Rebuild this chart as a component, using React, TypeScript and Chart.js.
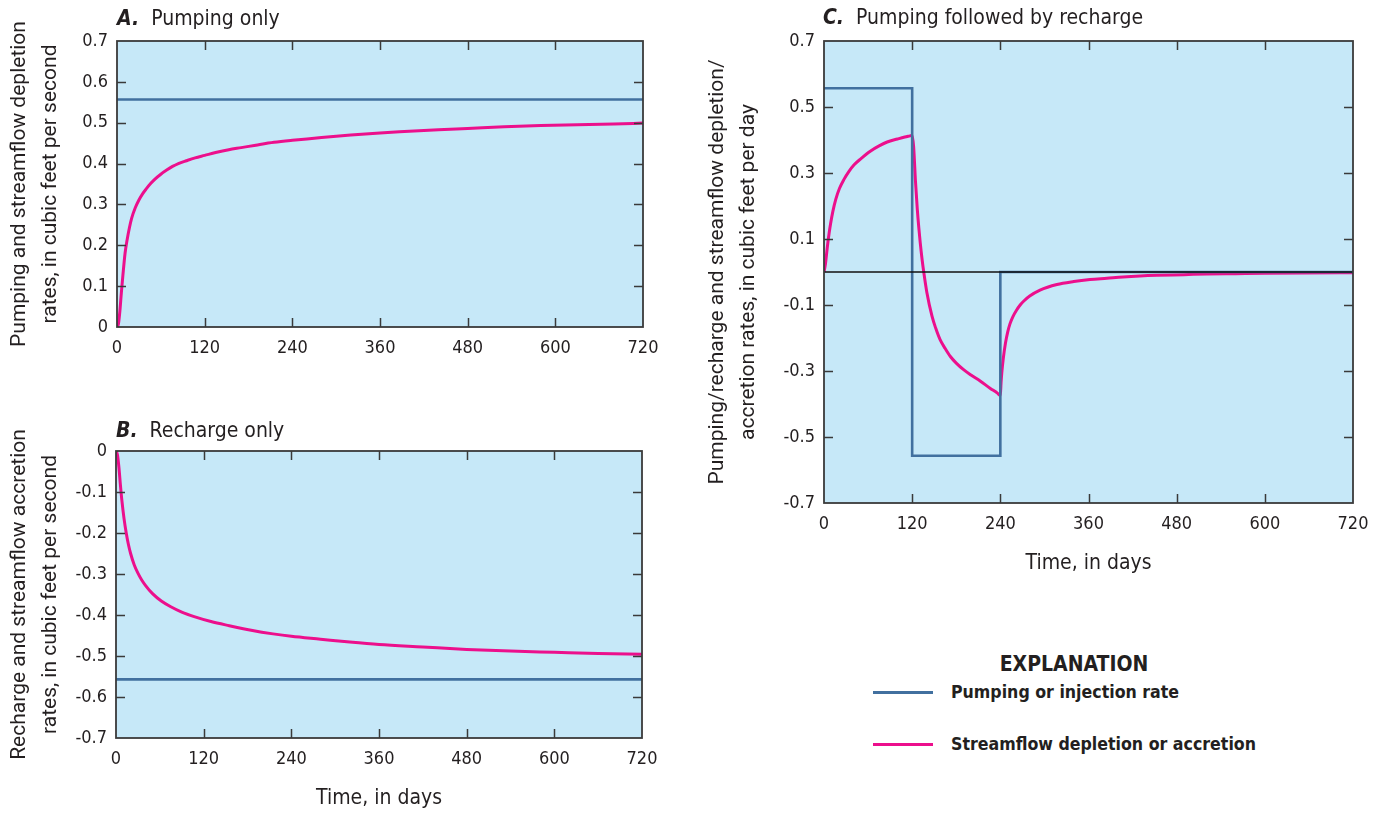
import React, { useEffect, useRef } from "react";
import { Chart, registerables } from "chart.js";

Chart.register(...registerables);

// ---------- fonts & colours ----------
const COND = "'Liberation Sans Narrow', 'DejaVu Sans Condensed', 'Roboto Condensed', Roboto, sans-serif";
const REG = "Roboto, 'Liberation Sans', sans-serif";
const TEXT = "#231f20";
const BG = "#c6e8f8";
const BLUE = "#41709f";
const PINK = "#ec0f8c";
const FRAME = "#3a3a3a";

// ---------- tick values ----------
const xTicks = [0, 120, 240, 360, 480, 600, 720];
const yTicksA = [0, 0.1, 0.2, 0.3, 0.4, 0.5, 0.6, 0.7];
const yTicksB = [-0.7, -0.6, -0.5, -0.4, -0.3, -0.2, -0.1, 0];
const yTicksC = [-0.7, -0.5, -0.3, -0.1, 0.1, 0.3, 0.5, 0.7];

// ---------- A. Pumping only ----------
const pumpDaysA = [0, 720];
const pumpRateA = [0.557, 0.557];
const daysA = [0, 2, 4, 6, 8, 11, 14, 17, 20, 25, 30, 35, 40, 46, 52, 60, 68, 76, 84, 95, 107, 120, 135, 153, 170, 190, 215, 240, 270, 300, 330, 360, 400, 440, 480, 530, 580, 630, 680, 720];
const depletionA = [0, 0.008, 0.04, 0.085, 0.125, 0.18, 0.215, 0.243, 0.266, 0.292, 0.311, 0.326, 0.338, 0.351, 0.362, 0.374, 0.384, 0.393, 0.4, 0.407, 0.414, 0.42, 0.427, 0.434, 0.439, 0.445, 0.452, 0.457, 0.462, 0.467, 0.471, 0.475, 0.479, 0.483, 0.486, 0.49, 0.493, 0.495, 0.497, 0.499];

// ---------- B. Recharge only ----------
const rechargeDaysB = [0, 720];
const rechargeRateB = [-0.557, -0.557];
const daysB = [0, 2, 4, 6, 8, 11, 14, 17, 20, 25, 30, 35, 40, 50, 62, 75, 90, 107, 130, 155, 185, 215, 240, 280, 320, 360, 420, 480, 540, 600, 660, 720];
const accretionB = [0, -0.01, -0.04, -0.082, -0.12, -0.165, -0.2, -0.228, -0.25, -0.278, -0.298, -0.314, -0.327, -0.348, -0.366, -0.38, -0.393, -0.404, -0.416, -0.426, -0.437, -0.446, -0.452, -0.459, -0.466, -0.472, -0.478, -0.484, -0.488, -0.491, -0.494, -0.496];

// ---------- C. Pumping followed by recharge ----------
const zeroDaysC = [0, 720];
const zeroC = [0, 0];
const stepDaysC = [0, 120, 120, 240, 240, 720];
const stepRateC = [0.557, 0.557, -0.557, -0.557, 0, 0];
const daysC = [
  0, 2, 4.5, 7, 9, 12, 16, 21, 27, 34, 41, 50, 63, 75, 86, 100, 110, 117, 120,
  122, 124.5, 127, 129, 131, 133.5, 136, 140, 147, 152, 158, 165, 172, 180, 190, 200, 213, 226, 236, 240,
  241, 242, 244, 247, 250, 253, 257, 262, 267, 272, 280, 294, 317, 340, 362, 385, 407, 430, 453, 490, 521, 560, 600, 650, 720,
];
const streamC = [
  0, 0.025, 0.075, 0.118, 0.147, 0.183, 0.22, 0.253, 0.28, 0.305, 0.325, 0.343, 0.366, 0.382, 0.394, 0.403, 0.409, 0.4125, 0.414,
  0.38, 0.275, 0.19, 0.135, 0.088, 0.038, -0.004, -0.062, -0.134, -0.17, -0.205, -0.232, -0.256, -0.276, -0.296, -0.312, -0.331, -0.352, -0.367, -0.374,
  -0.335, -0.305, -0.262, -0.215, -0.182, -0.158, -0.136, -0.116, -0.1, -0.088, -0.073, -0.055, -0.038, -0.029, -0.023, -0.019, -0.015, -0.012, -0.01, -0.008, -0.006, -0.005, -0.004, -0.003, -0.002,
];

const pts = (xs: number[], ys: number[]) => xs.map((x, i) => ({ x, y: ys[i] }));

// plugin: plot background, frame and inward ticks on all four sides
const framePlugin = {
  id: "frame",
  beforeDraw(chart: any) {
    const { ctx, chartArea: a } = chart;
    ctx.save();
    ctx.fillStyle = BG;
    ctx.fillRect(a.left, a.top, a.right - a.left, a.bottom - a.top);
    ctx.restore();
  },
  afterDatasetsDraw(chart: any) {
    const { ctx, chartArea: a, scales } = chart;
    const L = 9;
    ctx.save();
    ctx.strokeStyle = FRAME;
    ctx.lineWidth = 1.5;
    ctx.beginPath();
    for (const t of scales.x.ticks) {
      const px = Math.round(scales.x.getPixelForValue(t.value)) + 0.5;
      if (px <= a.left + 2 || px >= a.right - 2) continue;
      ctx.moveTo(px, a.bottom);
      ctx.lineTo(px, a.bottom - L);
      ctx.moveTo(px, a.top);
      ctx.lineTo(px, a.top + L);
    }
    for (const t of scales.y.ticks) {
      const py = Math.round(scales.y.getPixelForValue(t.value)) + 0.5;
      if (py <= a.top + 2 || py >= a.bottom - 2) continue;
      ctx.moveTo(a.left, py);
      ctx.lineTo(a.left + L, py);
      ctx.moveTo(a.right, py);
      ctx.lineTo(a.right - L, py);
    }
    ctx.stroke();
    ctx.lineWidth = 1.8;
    ctx.strokeRect(a.left, a.top, a.right - a.left, a.bottom - a.top);
    ctx.restore();
  },
};

type PanelProps = {
  left: number;
  top: number;
  width: number;
  height: number;
  yWidth: number;
  xHeight: number;
  padRight: number;
  yMin: number;
  yMax: number;
  yTicks: number[];
  yTitle: string[];
  yTitlePad: number;
  xTitle?: string;
  xTitlePad?: number;
  datasets: any[];
};

function Panel(p: PanelProps) {
  const ref = useRef<HTMLCanvasElement | null>(null);
  useEffect(() => {
    if (!ref.current) return;
    const chart = new Chart(ref.current, {
      type: "line",
      data: { datasets: p.datasets },
      plugins: [framePlugin],
      options: {
        animation: false,
        responsive: false,
        maintainAspectRatio: false,
        events: [],
        layout: { padding: { top: 41, right: p.padRight, left: 0, bottom: 0 } },
        plugins: { legend: { display: false }, tooltip: { enabled: false } },
        elements: { point: { radius: 0 } },
        scales: {
          x: {
            type: "linear",
            min: 0,
            max: 720,
            afterBuildTicks: (s: any) => {
              s.ticks = xTicks.map((v) => ({ value: v }));
            },
            afterFit: (s: any) => {
              s.height = p.xHeight;
            },
            grid: { display: false, drawTicks: false },
            border: { display: false },
            ticks: {
              autoSkip: false,
              maxRotation: 0,
              padding: 11,
              color: TEXT,
              font: { family: COND, size: 18, lineHeight: 1.2 },
              callback: (v: any) => String(v),
            },
            title: p.xTitle
              ? {
                  display: true,
                  text: p.xTitle,
                  color: TEXT,
                  font: { family: COND, size: 21, lineHeight: 1.2 },
                  padding: { top: 0, bottom: p.xTitlePad || 0 },
                }
              : { display: false },
          },
          y: {
            type: "linear",
            min: p.yMin,
            max: p.yMax,
            afterBuildTicks: (s: any) => {
              s.ticks = p.yTicks.map((v) => ({ value: v }));
            },
            afterFit: (s: any) => {
              s.width = p.yWidth;
            },
            grid: { display: false, drawTicks: false },
            border: { display: false },
            ticks: {
              autoSkip: false,
              padding: 9,
              color: TEXT,
              font: { family: COND, size: 18 },
              callback: (v: any) => (Math.abs(v) < 1e-9 ? "0" : Number(v).toFixed(1)),
            },
            title: {
              display: true,
              text: p.yTitle,
              color: TEXT,
              font: { family: REG, size: 21, lineHeight: 1.45 },
              padding: { top: p.yTitlePad, bottom: 0 },
            },
          },
        },
      } as any,
    });
    return () => chart.destroy();
  }, []);
  return (
    <canvas
      ref={ref}
      width={p.width}
      height={p.height}
      style={{ position: "absolute", left: p.left, top: p.top, width: p.width, height: p.height }}
    />
  );
}

const line = (data: any[], color: string, width: number, smooth = false) => ({
  data,
  borderColor: color,
  borderWidth: width,
  pointRadius: 0,
  fill: false,
  tension: smooth ? 0.4 : 0,
  cubicInterpolationMode: smooth ? "monotone" : "default",
  borderJoinStyle: "miter",
});

function PanelTitle({ left, top, letter, text }: { left: number; top: number; letter: string; text: string }) {
  return (
    <div
      style={{
        position: "absolute",
        left,
        top,
        fontFamily: COND,
        fontSize: 21,
        lineHeight: "26px",
        color: TEXT,
        whiteSpace: "nowrap",
      }}
    >
      <span style={{ fontWeight: "bold", fontStyle: "italic" }}>{letter}</span>
      {"\u00a0 " + text}
    </div>
  );
}

export default function App() {
  useEffect(() => {
    document.body.style.margin = "0";
  }, []);
  return (
    <div style={{ position: "absolute", left: 0, top: 0, width: 1380, height: 814, background: "#fff", overflow: "hidden" }}>
      <Panel
        left={0}
        top={0}
        width={673}
        height={370}
        yWidth={117}
        xHeight={43}
        padRight={30}
        yMin={0}
        yMax={0.7}
        yTicks={yTicksA}
        yTitle={["Pumping and streamflow depletion", "rates, in cubic feet per second"]}
        yTitlePad={5}
        datasets={[
          line(pts(pumpDaysA, pumpRateA), BLUE, 2.6),
          line(pts(daysA, depletionA), PINK, 3, true),
        ]}
      />
      <Panel
        left={0}
        top={410}
        width={672}
        height={404}
        yWidth={116}
        xHeight={76}
        padRight={30}
        yMin={-0.7}
        yMax={0}
        yTicks={yTicksB}
        yTitle={["Recharge and streamflow accretion", "rates, in cubic feet per second"]}
        yTitlePad={5}
        xTitle="Time, in days"
        xTitlePad={2.4}
        datasets={[
          line(pts(rechargeDaysB, rechargeRateB), BLUE, 2.6),
          line(pts(daysB, accretionB), PINK, 3, true),
        ]}
      />
      <Panel
        left={700}
        top={0}
        width={680}
        height={590}
        yWidth={124}
        xHeight={87}
        padRight={27}
        yMin={-0.7}
        yMax={0.7}
        yTicks={yTicksC}
        yTitle={["Pumping/recharge and streamflow depletion/", "accretion rates, in cubic feet per day"]}
        yTitlePad={3}
        xTitle="Time, in days"
        xTitlePad={13.4}
        datasets={[
          line(pts(zeroDaysC, zeroC), "#111111", 1.6),
          line(pts(stepDaysC, stepRateC), BLUE, 2.6),
          line(pts(daysC, streamC), PINK, 3, true),
        ]}
      />
      <PanelTitle left={117} top={5} letter="A." text="Pumping only" />
      <PanelTitle left={116} top={417} letter="B." text="Recharge only" />
      <PanelTitle left={823} top={4} letter="C." text="Pumping followed by recharge" />

      <div
        style={{
          position: "absolute",
          left: 974,
          width: 200,
          top: 651,
          textAlign: "center",
          fontFamily: COND,
          fontWeight: "bold",
          fontSize: 21,
          lineHeight: "26px",
          color: TEXT,
        }}
      >
        EXPLANATION
      </div>
      {[
        { y: 692, color: BLUE, label: "Pumping or injection rate" },
        { y: 744, color: PINK, label: "Streamflow depletion or accretion" },
      ].map((it) => (
        <React.Fragment key={it.label}>
          <div style={{ position: "absolute", left: 873, top: it.y - 1.5, width: 60, height: 3, background: it.color }} />
          <div
            style={{
              position: "absolute",
              left: 951,
              top: it.y - 12,
              fontFamily: COND,
              fontWeight: "bold",
              fontSize: 17.6,
              lineHeight: "24px",
              color: TEXT,
              whiteSpace: "nowrap",
            }}
          >
            {it.label}
          </div>
        </React.Fragment>
      ))}
    </div>
  );
}
